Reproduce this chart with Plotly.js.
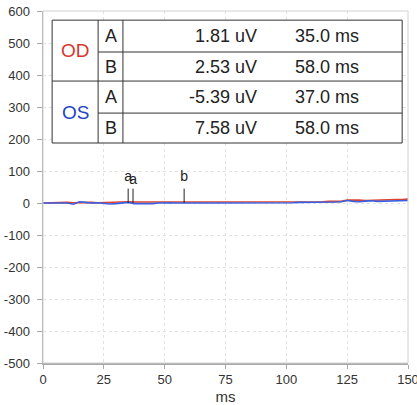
<!DOCTYPE html>
<html>
<head>
<meta charset="utf-8">
<script src="https://cdn.plot.ly/plotly-3.0.1.min.js"></script>
<style>html,body{margin:0;padding:0;background:#fff;}#chart{width:417px;height:405px;}</style>
</head>
<body>
<div id="chart"></div>
<script>
// Time axis (ms)
var timeMs = [0,2.5,5,7.5,10,12.5,15,17.5,20,22.5,25,27.5,30,32.5,35,37.5,40,42.5,45,47.5,50,52.5,55,57.5,60,62.5,65,67.5,70,72.5,75,77.5,80,82.5,85,87.5,90,92.5,95,97.5,100,102.5,105,107.5,110,112.5,115,117.5,120,122.5,125,127.5,130,132.5,135,137.5,140,142.5,145,147.5,150];
// OD (red) trace, uV
var odValues = [0,1,2,1,2,1,2,1,2,1,2,2,3,3,4,3,3,3,2,3,3,3,3,4,3,3,2,3,3,3,3,2,3,3,4,3,3,2,3,3,3,3,4,3,4,3,4,5,4,5,9,10,9,8,9,10,9,10,11,11,12];
// OS (blue) trace, uV
var osValues = [0,0,-1,0,0,-4,4,2,0,1,-2,-3,-2,1,2,-2,-2,-3,-2,0,1,1,0,1,0,0,1,0,0,0,0,0,1,0,0,0,1,0,0,-1,1,1,2,2,3,1,2,3,3,4,8,5,4,6,7,5,6,6,7,8,8];
// Peak markers
var markerX = [35, 37, 58];
var markerLabels = ['a', 'a', 'b'];
var markerHeight = 45;
var markerLabelY = [80, 70, 80];
// Table contents
var eyes = ['OD', 'OS'];
var eyeColors = ['#d8352c', '#2146c4'];
var peakNames = ['A', 'B', 'A', 'B'];
var amplitudes = ['1.81 uV', '2.53 uV', '-5.39 uV', '7.58 uV'];
var latencies = ['35.0 ms', '58.0 ms', '37.0 ms', '58.0 ms'];
var xTicks = [0, 25, 50, 75, 100, 125, 150];
var yTicks = [-500, -400, -300, -200, -100, 0, 100, 200, 300, 400, 500, 600];

var mx = [], my = [];
markerX.forEach(function (x) { mx.push(x, x, null); my.push(0, markerHeight, null); });

var font = 'Liberation Sans, Arial, sans-serif';
var traces = [
  {x: timeMs, y: odValues, mode: 'lines', line: {color: '#e0432e', width: 1.6}, hoverinfo: 'skip'},
  {x: timeMs, y: osValues, mode: 'lines', line: {color: '#3a5fe0', width: 1.6}, hoverinfo: 'skip'},
  {x: mx, y: my, mode: 'lines', line: {color: '#222', width: 1}, hoverinfo: 'skip'},
  {x: markerX, y: markerLabelY, mode: 'text', text: markerLabels,
   textfont: {family: font, size: 14, color: '#222'}, hoverinfo: 'skip'}
];

// Table geometry (paper coordinates)
var tx0 = 0.025, tx1 = 0.984, col1 = 0.151, col2 = 0.219;
var rowsY = [0.974, 0.8835, 0.801, 0.710, 0.625];
var lineStyle = {color: '#333', width: 1};
var shapes = [
  {type: 'rect', xref: 'paper', yref: 'paper', x0: 0, x1: 1, y0: 0, y1: 1, line: {color: '#d0d0d0', width: 1}},
  {type: 'rect', xref: 'paper', yref: 'paper', x0: tx0, x1: tx1, y0: rowsY[4], y1: rowsY[0], line: lineStyle, fillcolor: '#fff', layer: 'above'},
  {type: 'line', xref: 'paper', yref: 'paper', x0: col1, x1: col1, y0: rowsY[4], y1: rowsY[0], line: lineStyle, layer: 'above'},
  {type: 'line', xref: 'paper', yref: 'paper', x0: col2, x1: col2, y0: rowsY[4], y1: rowsY[0], line: lineStyle, layer: 'above'},
  {type: 'line', xref: 'paper', yref: 'paper', x0: col1, x1: tx1, y0: rowsY[1], y1: rowsY[1], line: lineStyle, layer: 'above'},
  {type: 'line', xref: 'paper', yref: 'paper', x0: tx0, x1: tx1, y0: rowsY[2], y1: rowsY[2], line: lineStyle, layer: 'above'},
  {type: 'line', xref: 'paper', yref: 'paper', x0: col1, x1: tx1, y0: rowsY[3], y1: rowsY[3], line: lineStyle, layer: 'above'}
];

var annotations = [];
eyes.forEach(function (e, i) {
  annotations.push({xref: 'paper', yref: 'paper', x: (tx0 + col1) / 2, y: (rowsY[2 * i] + rowsY[2 * i + 2]) / 2,
    xanchor: 'center', yanchor: 'middle', text: e, showarrow: false, font: {family: font, size: 19, color: eyeColors[i]}});
});
peakNames.forEach(function (p, i) {
  var yc = (rowsY[i] + rowsY[i + 1]) / 2;
  annotations.push({xref: 'paper', yref: 'paper', x: (col1 + col2) / 2, y: yc, xanchor: 'center', yanchor: 'middle',
    text: p, showarrow: false, font: {family: font, size: 18, color: '#222'}});
  annotations.push({xref: 'paper', yref: 'paper', x: 0.593, xanchor: 'right', y: yc, yanchor: 'middle',
    text: amplitudes[i], showarrow: false, font: {family: font, size: 18, color: '#222'}});
  annotations.push({xref: 'paper', yref: 'paper', x: 0.684, xanchor: 'left', y: yc, yanchor: 'middle',
    text: latencies[i], showarrow: false, font: {family: font, size: 18, color: '#222'}});
});

var layout = {
  width: 417, height: 405,
  margin: {l: 43, r: 9, t: 11, b: 42},
  paper_bgcolor: '#fff', plot_bgcolor: '#fff',
  showlegend: false,
  font: {family: font, color: '#333'},
  xaxis: {range: [0, 150], tickvals: xTicks, ticktext: xTicks.map(String), showgrid: true, gridcolor: '#e2e2e2', griddash: 'dot',
    zeroline: false, showline: true, linecolor: '#a8a8a8', linewidth: 1.5, ticks: 'outside', ticklen: 4, tickcolor: '#a8a8a8',
    ticklabeloverflow: 'allow',
    tickfont: {size: 13, color: '#333'}, title: {text: 'ms', font: {size: 15, color: '#333'}, standoff: 7}},
  yaxis: {range: [-500, 600], tickvals: yTicks, ticktext: yTicks.map(String), showgrid: true, gridcolor: '#e2e2e2', griddash: 'dot',
    zeroline: false, showline: true, linecolor: '#a8a8a8', linewidth: 1.5, ticks: 'outside', ticklen: 5, tickcolor: '#a8a8a8',
    ticklabelstandoff: 4, tickfont: {size: 13, color: '#333'}},
  shapes: shapes,
  annotations: annotations
};

Plotly.newPlot('chart', traces, layout, {staticPlot: true, displayModeBar: false});
</script>
</body>
</html>
